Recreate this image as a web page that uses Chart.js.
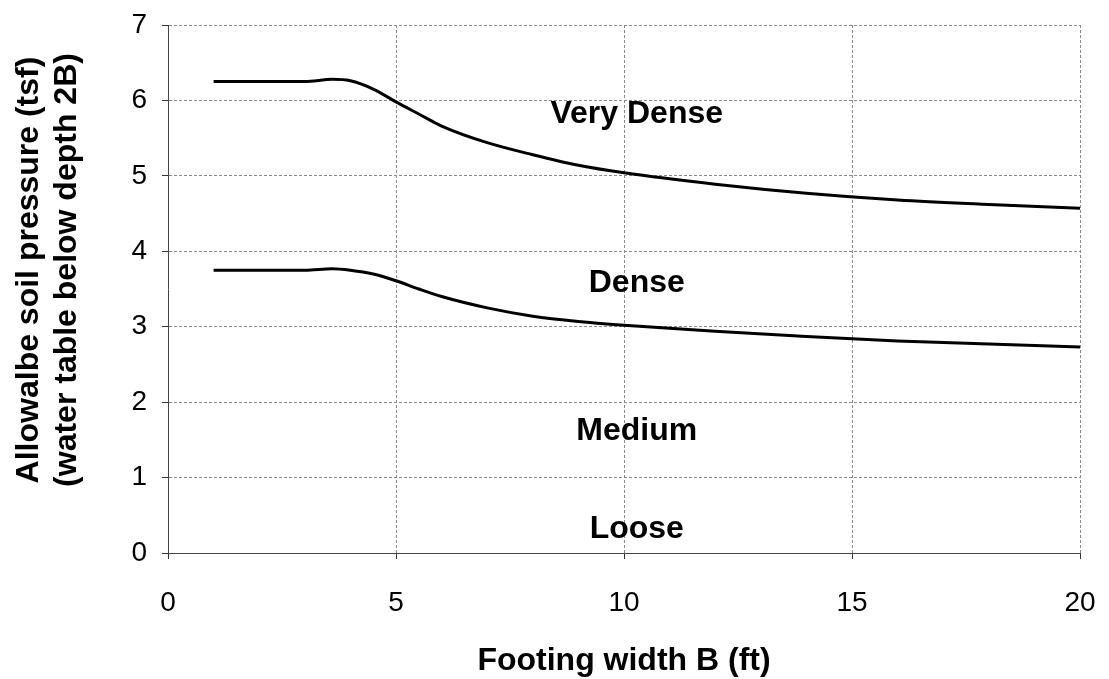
<!DOCTYPE html>
<html>
<head>
<meta charset="utf-8">
<script src="https://cdn.jsdelivr.net/npm/chart.js@4.4.1/dist/chart.umd.min.js"></script>
<style>
  html, body { margin: 0; padding: 0; background: #fff; }
  #wrap { width: 1109px; height: 679px; }
</style>
</head>
<body>
<div id="wrap"><canvas id="chart" width="1109" height="679"></canvas></div>
<script>
// footing width B (ft)
const footingWidth = [1, 2, 3, 3.6, 4.0, 4.5, 5, 5.5, 6, 7, 8, 9, 10, 12, 14, 16, 18, 20];
// allowable soil pressure (tsf)
const veryDense = [6.25, 6.25, 6.25, 6.28, 6.26, 6.15, 5.98, 5.82, 5.66, 5.44, 5.28, 5.14, 5.04, 4.89, 4.77, 4.68, 4.62, 4.57];
const dense = [3.75, 3.75, 3.75, 3.77, 3.75, 3.70, 3.61, 3.50, 3.40, 3.25, 3.14, 3.07, 3.02, 2.94, 2.87, 2.81, 2.77, 2.73];

const zoneLabels = ['Very Dense', 'Dense', 'Medium', 'Loose'];
const zoneX = [10.28, 10.28, 10.28, 10.28];
const zoneY = [5.82, 3.58, 1.61, 0.32];

const yTitle = ['Allowalbe soil pressure (tsf)', '(water table below depth 2B)'];

const FONT = '"Liberation Sans", Arial, sans-serif';

const toPoints = ys => ys.map((y, i) => ({ x: footingWidth[i], y }));

const zoneText = {
  id: 'zoneText',
  afterDatasetsDraw(chart) {
    const { ctx, scales: { x, y } } = chart;
    ctx.save();
    ctx.font = 'bold 32px ' + FONT;
    ctx.fillStyle = '#000';
    ctx.textAlign = 'center';
    ctx.textBaseline = 'middle';
    zoneLabels.forEach((t, i) => {
      ctx.fillText(t, x.getPixelForValue(zoneX[i]), y.getPixelForValue(zoneY[i]));
    });
    // y axis title, two lines, rotated
    ctx.translate(0, 270);
    ctx.rotate(-Math.PI / 2);
    ctx.fillText(yTitle[0], 0, 29);
    ctx.fillText(yTitle[1], 0, 67);
    ctx.restore();
  }
};

const gridStyle = {
  color: '#8a8a8a',
  lineWidth: 1,
  tickLength: 6,
  tickColor: '#333'
};

new Chart(document.getElementById('chart'), {
  type: 'line',
  data: {
    datasets: [
      { label: 'Very Dense', data: toPoints(veryDense) },
      { label: 'Dense', data: toPoints(dense) }
    ].map(d => Object.assign(d, {
      borderColor: '#000',
      borderWidth: 3,
      pointRadius: 0,
      fill: false,
      cubicInterpolationMode: 'monotone'
    }))
  },
  options: {
    responsive: false,
    animation: false,
    layout: { padding: { top: 25, right: 29, left: 0, bottom: 0 } },
    plugins: { legend: { display: false }, tooltip: { enabled: false } },
    scales: {
      x: {
        type: 'linear',
        min: 0, max: 20,
        ticks: { stepSize: 5, color: '#000', font: { family: FONT, size: 28 }, padding: 27 },
        grid: gridStyle,
        border: { color: '#444', dash: [3, 2] },
        title: {
          display: true,
          text: 'Footing width B (ft)',
          color: '#000',
          font: { family: FONT, size: 32, weight: 'bold', lineHeight: 1.1 },
          padding: { top: 10, bottom: 0 }
        },
        afterFit(s) {
          s.height = 126;
          s.paddingLeft = 0;
          s.paddingRight = 0;
        }
      },
      y: {
        min: 0, max: 7,
        ticks: { stepSize: 1, color: '#000', font: { family: FONT, size: 28 }, padding: 15 },
        grid: gridStyle,
        border: { color: '#444', dash: [3, 2] },
        afterFit(s) {
          s.width = 168;
          s.paddingTop = 0;
          s.paddingBottom = 0;
        }
      }
    }
  },
  plugins: [zoneText, {
    id: 'dashGrid',
    beforeDraw(chart) {
      Object.values(chart.scales).forEach(s => {
        s.options.grid.borderDash = [2, 4];
      });
    }
  }]
});
</script>
</body>
</html>
